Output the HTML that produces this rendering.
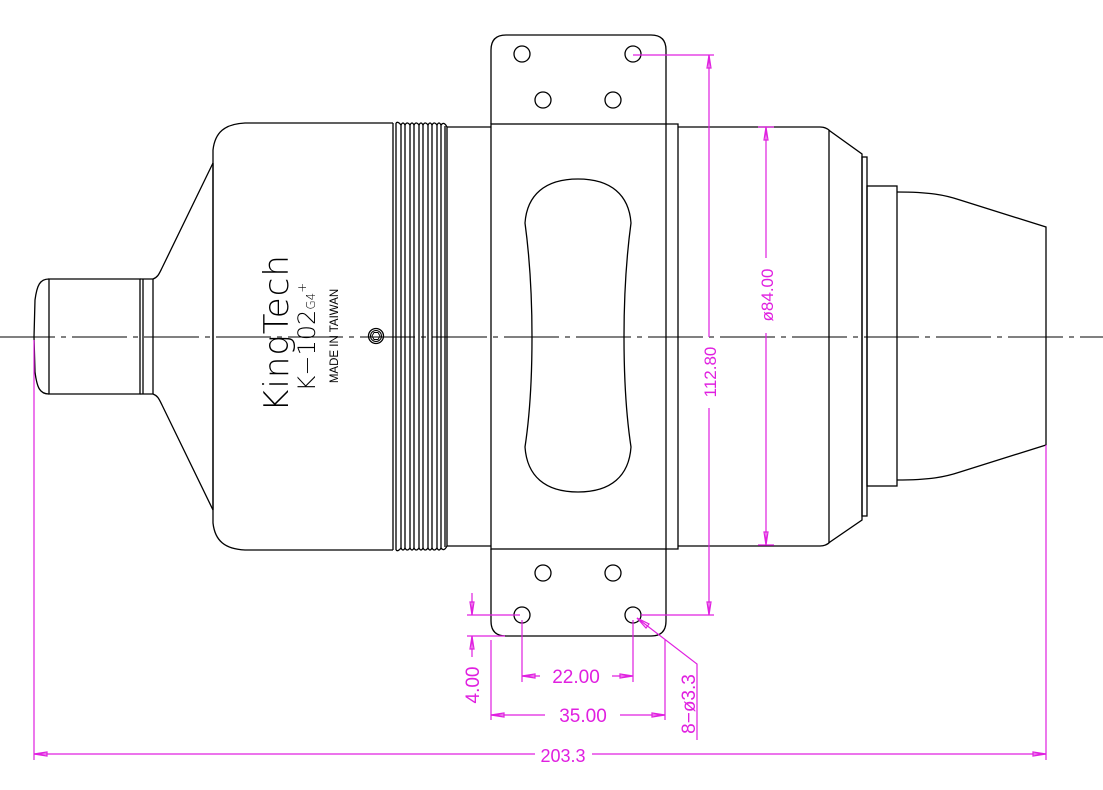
<!DOCTYPE html>
<html><head><meta charset="utf-8"><style>
html,body{margin:0;padding:0;background:#fff;}
svg{display:block;}
text{font-family:"Liberation Sans","DejaVu Sans",sans-serif;}
</style></head><body>
<svg width="1103" height="790" viewBox="0 0 1103 790" xmlns="http://www.w3.org/2000/svg">
<g fill="none" stroke="#000" stroke-width="1.3">
<!-- center line -->
<line x1="0" y1="337" x2="1103" y2="337" stroke-dasharray="55 6 5 6" stroke-width="1.1"/>
<!-- nose -->
<path d="M49,279 L140,279 L140,394 L49,394 Z"/>
<path d="M49,279 C40,279 37,285 35,300 L34,337 L35,372 C37,388 40,394 49,394"/>
<line x1="143" y1="279" x2="143" y2="394"/>
<path d="M140,279 L153,279 M140,394 L153,394"/>
<line x1="153" y1="279" x2="153" y2="394"/>
<!-- cone -->
<path d="M153,279 C158,277 159,274 162,268 L213,163"/>
<path d="M153,394 C158,396 159,399 162,405 L213,510"/>
<!-- front cover -->
<path d="M393,123 L245,123 C225,124 215,132 213,150 L213,523 C215,541 225,549 245,550 L393,550"/>
<line x1="213" y1="163" x2="213" y2="510"/>
<!-- grooves -->
<path d="M393,123 L393,550"/>
<path d="M396,123 L396,550 M401,125 L401,548 M405,125 L405,548 M410,125 L410,548 M414,125 L414,548 M419,125 L419,548 M423,125 L423,548 M428,125 L428,548 M432,125 L432,548 M437,125 L437,548 M441,125 L441,548 M445,126 L445,547 M447,127 L447,546"/>
<path d="M396,123 Q398,121 401,125 Q403,121 405,125 Q407,121 410,125 Q412,121 414,125 Q416,121 419,125 Q421,121 423,125 Q425,121 428,125 Q430,121 432,125 Q434,121 437,125 Q439,121 441,125 Q444,121 447,127"/>
<path d="M396,550 Q398,552 401,548 Q403,552 405,548 Q407,552 410,548 Q412,552 414,548 Q416,552 419,548 Q421,552 423,548 Q425,552 428,548 Q430,552 432,548 Q434,552 437,548 Q439,552 441,548 Q444,552 447,546"/>
<path d="M447,127 L491,127 M447,546 L491,546"/>
<!-- mount plate -->
<path d="M491,124 L491,50 Q491,35 506,35 L651,35 Q666,35 666,50 L666,124"/>
<path d="M491,549 L491,621 Q491,636 506,636 L651,636 Q666,636 666,621 L666,549"/>
<rect x="491" y="124" width="175" height="425"/>
<path d="M666,124 L678,124 L678,549 L666,549"/>
<circle cx="522" cy="54" r="8"/><circle cx="633" cy="54" r="8"/>
<circle cx="543" cy="100" r="8"/><circle cx="613" cy="100" r="8"/>
<circle cx="543" cy="573" r="8"/><circle cx="613" cy="573" r="8"/>
<circle cx="522" cy="615" r="8"/><circle cx="633" cy="615" r="8"/>
<!-- window -->
<path d="M525,223 C527,195 545,179 578,179 C611,179 629,195 631,223 C626,260 624,300 624,337 C624,374 626,414 631,447 C629,476 611,492 578,492 C545,492 527,476 525,447 C530,414 532,374 532,337 C532,300 530,260 525,223 Z"/>
<!-- rear body -->
<path d="M678,127 L820,127 Q826,127 830,131 L862,154 L862,520 L830,542 Q826,546 820,546 L678,546"/>
<line x1="829" y1="130" x2="829" y2="543"/>
<rect x="862" y="157" width="5" height="359"/>
<rect x="867" y="186" width="30" height="300"/>
<path d="M897,192 C930,192 945,195 960,200 L1046,227 L1046,445 L960,472 C945,477 930,480 897,480"/>
<!-- bolt -->
<circle cx="376" cy="336" r="7.5"/><circle cx="376" cy="336" r="5.5" stroke-width="1"/>
<polygon points="380,336 378,339.5 374,339.5 372,336 374,332.5 378,332.5" stroke-width="0.9"/>
</g>
<!-- labels -->
<g fill="#000">
<text transform="translate(288,333) rotate(-90)" text-anchor="middle" font-size="34" font-weight="normal" style="font-family:'DejaVu Sans','Liberation Sans',sans-serif;font-weight:200" letter-spacing="1">KingTech</text>
<text transform="translate(315,337) rotate(-90)" text-anchor="middle" font-size="24" style="font-family:'DejaVu Sans','Liberation Sans',sans-serif;font-weight:200">K−102<tspan font-size="12">G4</tspan><tspan font-size="12" dy="-9">+</tspan></text>
<text transform="translate(338,336) rotate(-90)" text-anchor="middle" font-size="11.5">MADE IN TAIWAN</text>
</g>
<!-- dimensions -->
<g stroke="#e020e0" stroke-width="1.2" fill="none">
<path d="M633,55 L714,55 M641,615 L714,615"/>
<path d="M709,55 L709,337 M709,408 L709,615"/>
<polygon points="709,55 707,68 711,68"/><polygon points="709,615 707,602 711,602"/>
<path d="M766,127 L766,258 M766,333 L766,545"/>
<path d="M758,127 L774,127 M758,545 L774,545"/>
<polygon points="766,127 764,140 768,140"/><polygon points="766,545 764,532 768,532"/>
<path d="M34,340 L34,760 M1046,445 L1046,760"/>
<path d="M34,754 L535,754 M592,754 L1046,754"/>
<polygon points="34,754 47,752 47,756"/><polygon points="1046,754 1033,752 1033,756"/>
<path d="M491,640 L491,720 M665,640 L665,720"/>
<path d="M491,715 L545,715 M620,715 L665,715"/>
<polygon points="491,715 504,713 504,717"/><polygon points="665,715 652,713 652,717"/>
<path d="M522,620 L522,682 M633,620 L633,682"/>
<path d="M522,676 L540,676 M612,676 L633,676"/>
<polygon points="522,676 535,674 535,678"/><polygon points="633,676 620,674 620,678"/>
<path d="M467,615 L520,615 M467,636 L505,636"/>
<path d="M472,593 L472,615 M472,636 L472,657"/>
<polygon points="472,615 470,602 474,602"/><polygon points="472,636 470,649 474,649"/>
<path d="M637,618 L697,664 L697,740"/>
<polygon points="637,618 646,628 649,624"/>
</g>
<g fill="#e020e0" font-size="18">
<text transform="translate(716,372) rotate(-90)" text-anchor="middle" font-size="17">112.80</text>
<text transform="translate(773,295) rotate(-90)" text-anchor="middle" font-size="17">ø84.00</text>
<text x="563" y="762" text-anchor="middle" font-size="18">203.3</text>
<text x="583" y="722" text-anchor="middle" font-size="19">35.00</text>
<text x="576" y="683" text-anchor="middle" font-size="19">22.00</text>
<text transform="translate(479,685) rotate(-90)" text-anchor="middle" font-size="19">4.00</text>
<text transform="translate(695,704) rotate(-90)" text-anchor="middle" font-size="19">8−ø3.3</text>
</g>
</svg>
</body></html>
